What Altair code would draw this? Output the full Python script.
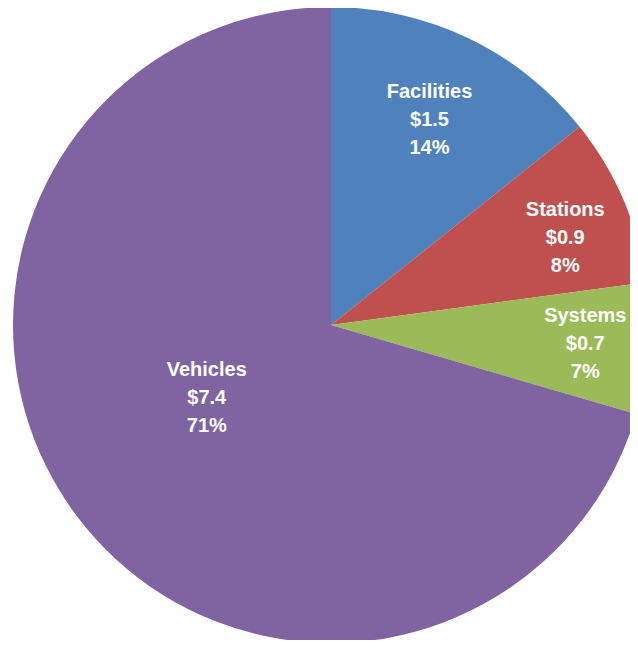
import altair as alt
import pandas as pd

categories = ["Facilities", "Stations", "Systems", "Vehicles"]
values = [1.5, 0.9, 0.7, 7.4]
percent_labels = ["14%", "8%", "7%", "71%"]

colors = ["#4F81BD", "#C0504D", "#9BBB59", "#8064A2"]
label_radii = [227, 250, 255, 144]
# small angular nudges (fraction of a turn) for label placement
label_nudge = [0, 0.0075, 0, 0.018]

df = pd.DataFrame({"category": categories, "value": values, "pct": percent_labels})
df["idx"] = list(range(len(categories)))
df["label"] = df["category"] + "\n$" + df["value"].map(lambda v: f"{v:.1f}") + "\n" + df["pct"]

pie = alt.Chart(df).mark_arc(radius=318).encode(
    theta=alt.Theta("value:Q", stack=True),
    order=alt.Order("idx:Q"),
    color=alt.Color("category:N", scale=alt.Scale(domain=categories, range=colors), legend=None),
)

nudge_expr = "[" + ", ".join(str(v) for v in label_nudge) + "][datum.idx]"

text = alt.Chart(df).transform_window(
    cum="sum(value)", sort=[alt.SortField("idx")], frame=[None, 0]
).transform_joinaggregate(
    total="sum(value)"
).transform_calculate(
    frac="(datum.cum - datum.value / 2) / datum.total + " + nudge_expr
).mark_text(
    font="Liberation Sans",
    fontSize=20,
    fontWeight="bold",
    color="white",
    lineBreak="\n",
    lineHeight=28,
    align="center",
    baseline="middle",
    dy=-28,
).encode(
    theta=alt.Theta("frac:Q", stack=False, scale=alt.Scale(domain=[0, 1])),
    text="label:N",
    radius=alt.Radius("idx:Q", scale=alt.Scale(type="linear", domain=[0, 1, 2, 3], range=label_radii)),
)

chart = (pie + text).resolve_scale(theta="independent").properties(
    width=598,
    height=630,
    padding={"left": 24, "top": 2, "right": 0, "bottom": 0},
    autosize=alt.AutoSizeParams(type="none"),
).configure_view(stroke=None)

chart.save("out.html", embed_options={"renderer": "svg", "actions": False})
